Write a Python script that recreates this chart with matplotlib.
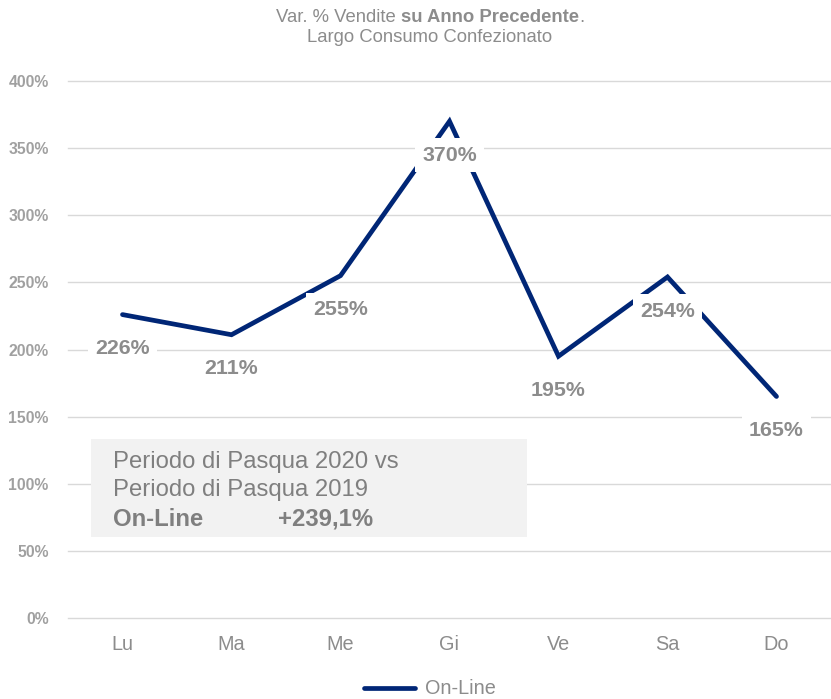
import matplotlib.pyplot as plt
from matplotlib.patches import Rectangle

plt.rcParams['font.family'] = ['Liberation Sans', 'DejaVu Sans']

days = ['Lu', 'Ma', 'Me', 'Gi', 'Ve', 'Sa', 'Do']
online = [226, 211, 255, 370, 195, 254, 165]
yticks = [0, 50, 100, 150, 200, 250, 300, 350, 400]

navy = '#002676'
grey = '#8c8c8c'
W, H = 831, 699

fig = plt.figure(figsize=(W / 100, H / 100), dpi=100)
ax = fig.add_axes([68 / W, 1 - 618 / H, (W - 68) / W, (618 - 81) / H])

ax.set_xlim(-0.5, len(days) - 0.5)
ax.set_ylim(0, 400)
ax.set_yticks(yticks)
ax.set_yticklabels([f'{v}%' for v in yticks], fontsize=11.3, fontweight='bold', color='#a0a0a0')
ax.set_xticks(range(len(days)))
ax.set_xticklabels(days, fontsize=14.3, color=grey)
ax.tick_params(length=0)
ax.tick_params(axis='y', pad=14)
ax.tick_params(axis='x', pad=12)
for s in ax.spines.values():
    s.set_visible(False)
ax.grid(axis='y', color='#d9d9d9', lw=1)
for gl in ax.get_ygridlines():
    gl.set_clip_on(False)
ax.set_axisbelow(True)

ax.plot(range(len(days)), online, color=navy, lw=3.4, solid_capstyle='round',
        solid_joinstyle='miter', label='On-Line', zorder=2)

for i, v in enumerate(online):
    ax.annotate(f'{v}%', (i, v), xytext=(0, -34), textcoords='offset pixels',
                ha='center', va='center', fontsize=15.4, fontweight='bold', color=grey,
                bbox=dict(boxstyle='square,pad=0.35', fc='white', ec='none'), zorder=3)

# summary box
fig.patches.append(Rectangle((91 / W, 1 - 537 / H), (527 - 91) / W, (537 - 439) / H,
                             transform=fig.transFigure, fc='#f2f2f2', ec='none', zorder=1))
box_fs = 17.2
fig.text(113 / W, 1 - 462 / H, 'Periodo di Pasqua 2020 vs', fontsize=box_fs, color='#7f7f7f', va='center')
fig.text(113 / W, 1 - 490 / H, 'Periodo di Pasqua 2019', fontsize=box_fs, color='#7f7f7f', va='center')
fig.text(113 / W, 1 - 519 / H, 'On-Line', fontsize=box_fs, color='#7f7f7f', va='center', fontweight='bold')
fig.text(278 / W, 1 - 519 / H, '+239,1%', fontsize=box_fs, color='#7f7f7f', va='center', fontweight='bold')

# title
title_fs = 13.3
title_cx = 430
fig.text(title_cx / W, 1 - 38 / H, 'Largo Consumo Confezionato', ha='center', va='center',
         fontsize=title_fs, color=grey)
parts = [('Var. % Vendite ', 'normal'), ('su Anno Precedente', 'bold'), ('.', 'normal')]
texts = [fig.text(0, 1 - 17 / H, s, ha='left', va='center', fontsize=title_fs,
                  color=grey, fontweight=w) for s, w in parts]
fig.canvas.draw()
r = fig.canvas.get_renderer()
widths = [t.get_window_extent(r).width for t in texts]
x = title_cx - sum(widths) / 2
for t, w in zip(texts, widths):
    t.set_x(x / W)
    x += w

fig.legend(loc='center', bbox_to_anchor=(430 / W, 1 - 689 / H), frameon=False,
           fontsize=14.3, labelcolor=grey, handlelength=2.6, handletextpad=0.5)

fig.savefig('out.png', dpi=100)
